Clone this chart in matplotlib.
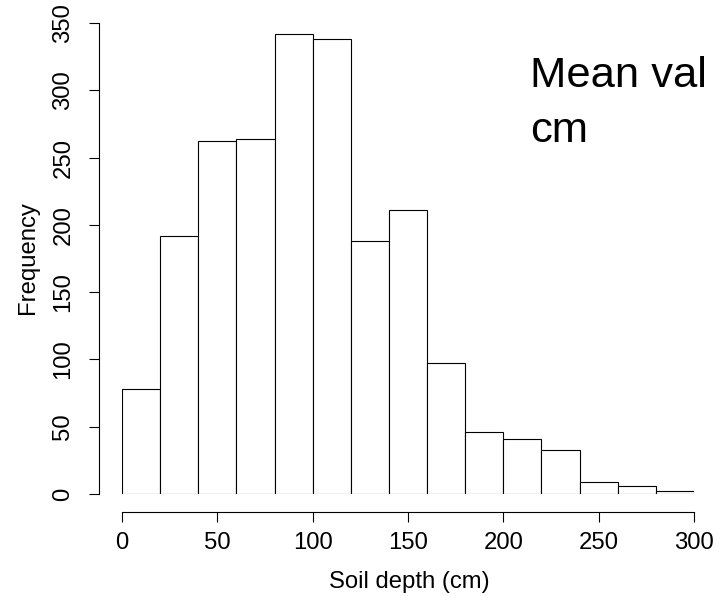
import matplotlib
matplotlib.use("Agg")
import matplotlib.pyplot as plt

plt.rcParams["font.family"] = ["Liberation Sans", "DejaVu Sans"]

# histogram of soil depth, 20 cm bins
bin_edges = [0, 20, 40, 60, 80, 100, 120, 140, 160, 180, 200, 220, 240, 260, 280, 300]
counts = [78, 192, 262, 264, 342, 338, 188, 211, 97, 46, 41, 33, 9, 6, 2]

x_ticks = [0, 50, 100, 150, 200, 250, 300]
y_ticks = [0, 50, 100, 150, 200, 250, 300, 350]

fig = plt.figure(figsize=(7.19, 5.96), dpi=100)
ax = fig.add_axes([122 / 719, 1 - 494 / 596, 572 / 719, 471 / 596])

ax.bar(bin_edges[:-1], counts, width=20, align="edge",
       facecolor="white", edgecolor="black", linewidth=0.8)

ax.set_xlim(0, 300)
ax.set_ylim(0, 350)

# R style detached axes
for side in ["top", "right"]:
    ax.spines[side].set_visible(False)
ax.spines["left"].set_position(("outward", 16.3))
ax.spines["bottom"].set_position(("outward", 13.2))
ax.spines["left"].set_linewidth(0.8)
ax.spines["bottom"].set_linewidth(0.8)

ax.set_xticks(x_ticks)
ax.set_yticks(y_ticks)
ax.tick_params(axis="both", length=7, width=0.8, labelsize=17.2)
ax.tick_params(axis="x", pad=7)
ax.tick_params(axis="y", pad=11, labelrotation=90)
for lab in ax.get_yticklabels():
    lab.set_va("center")

fig.text(409 / 719, 1 - 588 / 596, "Soil depth (cm)", fontsize=17.2,
         ha="center", va="baseline")
fig.text(28 / 719, 1 - 258 / 596, "Frequency", fontsize=17.2,
         ha="center", va="center", rotation=90)

fig.text(530 / 719, 1 - 86.7 / 596, "Mean val", fontsize=31.3,
         ha="left", va="baseline")
fig.text(530 / 719, 1 - 141.7 / 596, "cm", fontsize=31.3,
         ha="left", va="baseline")

fig.savefig("out.png", dpi=100)
